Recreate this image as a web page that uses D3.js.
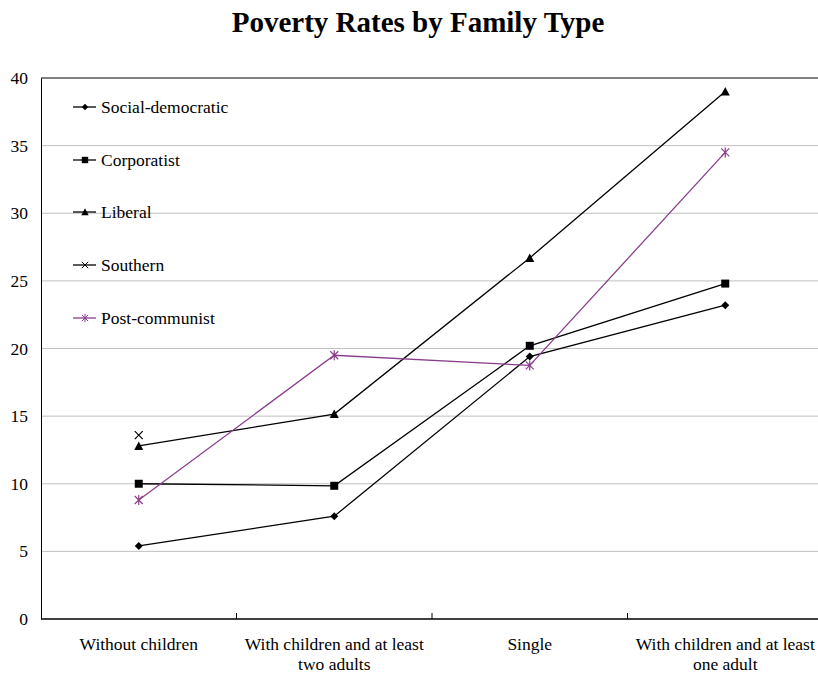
<!DOCTYPE html>
<html><head><meta charset="utf-8">
<script src="https://cdn.jsdelivr.net/npm/d3@7"></script>
<style>body{margin:0;background:#fff}svg{display:block;font-family:"Liberation Serif","Times New Roman",serif}</style>
</head><body><svg id="c" width="818" height="674"></svg>
<script>
const categories = [["Without children"], ["With children and at least", "two adults"], ["Single"], ["With children and at least", "one adult"]];
const seriesNames = ["Social-democratic", "Corporatist", "Liberal", "Southern", "Post-communist"];
const socialDemocratic = [5.4, 7.6, 19.4, 23.2];
const corporatist = [10.0, 9.85, 20.2, 24.8];
const liberal = [12.8, 15.15, 26.7, 39.0];
const southern = [13.6, null, null, null];
const postCommunist = [8.8, 19.5, 18.75, 34.5];
const yTicks = [0, 5, 10, 15, 20, 25, 30, 35, 40];

const seriesValues = [socialDemocratic, corporatist, liberal, southern, postCommunist];
const colors = ["#000", "#000", "#000", "#000", "#8a3f8c"];
const markers = ["diamond", "square", "triangle", "x", "star"];

const svg = d3.select("#c");
const mLeft = 41, mTop = 78, mBottom = 619, mRight = 823;
const x = d3.scaleBand().domain(d3.range(categories.length)).range([mLeft, mRight]);
const y = d3.scaleLinear().domain([0, 40]).range([mBottom, mTop]);
const FS = 17.5;

svg.append("text").attr("x", 418).attr("y", 32).attr("text-anchor", "middle")
  .attr("font-size", 29).attr("font-weight", "bold").text("Poverty Rates by Family Type");

// gridlines
svg.append("g").selectAll("line").data(yTicks.filter(d => d > 0 && d < 40)).join("line")
  .attr("x1", mLeft).attr("x2", mRight).attr("y1", d => y(d)).attr("y2", d => y(d))
  .attr("stroke", "#c0c0c0").attr("stroke-width", 1);
// top border
svg.append("line").attr("x1", mLeft).attr("x2", mRight).attr("y1", y(40)).attr("y2", y(40)).attr("stroke", "#000");

// y axis
const ya = svg.append("g").attr("transform", `translate(${mLeft},0)`)
  .call(d3.axisLeft(y).tickValues(yTicks).tickSize(0).tickPadding(13));
ya.select(".domain").attr("stroke", "#000");
ya.selectAll("text").attr("font-family", "Liberation Serif, serif").attr("font-size", FS).attr("fill", "#000");

// x axis
const xa = svg.append("g").attr("transform", `translate(0,${mBottom})`);
xa.append("line").attr("x1", mLeft).attr("x2", mRight).attr("stroke", "#000").attr("stroke-width", 1.5);
xa.selectAll("line.tk").data(d3.range(1, categories.length)).join("line").attr("class", "tk")
  .attr("x1", d => x(d)).attr("x2", d => x(d)).attr("y1", 0).attr("y2", -6).attr("stroke", "#000");
const lab = xa.selectAll("text").data(categories).join("text")
  .attr("text-anchor", "middle").attr("font-size", FS)
  .attr("transform", (d, i) => `translate(${x(i) + x.bandwidth() / 2},31)`);
lab.selectAll("tspan").data(d => d).join("tspan").attr("x", 0).attr("dy", (d, i) => i ? 20 : 0).text(d => d);

function markerPath(type, k) {
  const r = 4 * k;
  if (type === "diamond") return `M0,${-r}L${r},0L0,${r}L${-r},0Z`;
  if (type === "square") return `M${-r},${-r}H${r}V${r}H${-r}Z`;
  if (type === "triangle") return `M0,${-r - 0.5}L${r + 0.5},${r}L${-r - 0.5},${r}Z`;
  if (type === "x") return `M${-r},${-r}L${r},${r}M${-r},${r}L${r},${-r}`;
  return `M${-r},${-r}L${r},${r}M${-r},${r}L${r},${-r}M0,${-r - 1}L0,${r + 1}`;
}

seriesValues.forEach((vals, si) => {
  const g = svg.append("g");
  const line = d3.line().defined(d => d != null).x((d, i) => x(i) + x.bandwidth() / 2).y(d => y(d));
  g.append("path").datum(vals).attr("d", line).attr("fill", "none").attr("stroke", colors[si]).attr("stroke-width", 1.3);
  vals.forEach((v, i) => {
    if (v == null) return;
    const m = markers[si];
    const open = (m === "x" || m === "star");
    g.append("path").attr("d", markerPath(m, 1))
      .attr("transform", `translate(${x(i) + x.bandwidth() / 2},${y(v)})`)
      .attr("fill", open ? "none" : colors[si])
      .attr("stroke", colors[si]).attr("stroke-width", open ? 1.2 : 0);
  });
});

// legend
const legendY = [107, 160, 212, 265, 318];
seriesNames.forEach((n, i) => {
  const g = svg.append("g").attr("transform", `translate(0,${legendY[i]})`);
  g.append("line").attr("x1", 73).attr("x2", 96).attr("stroke", colors[i]).attr("stroke-width", 1.3);
  const m = markers[i];
  const open = (m === "x" || m === "star");
  g.append("path").attr("d", markerPath(m, 0.8)).attr("transform", "translate(85,0)")
    .attr("fill", open ? "none" : colors[i])
    .attr("stroke", colors[i]).attr("stroke-width", open ? 1 : 0);
  g.append("text").attr("x", 101).attr("y", 6).attr("font-size", FS).text(n);
});
</script></body></html>
